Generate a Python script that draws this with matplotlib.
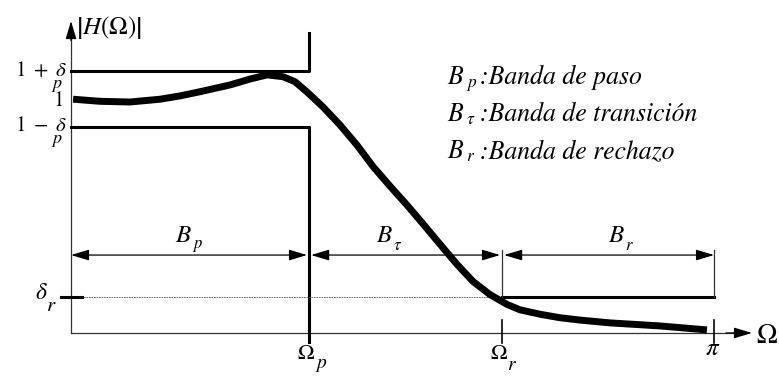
import numpy as np
import matplotlib
matplotlib.use('Agg')
from matplotlib import pyplot as plt

plt.rcParams['mathtext.fontset'] = 'stix'
plt.rcParams['font.family'] = 'STIXGeneral'

# Frecuencias de corte y tolerancias
wp = 1.163      # Omega_p
wr = 2.106      # Omega_r
wpi = np.pi
dp = 0.12       # delta_p
dr = 0.154      # delta_r

# Respuesta |H(Omega)|
w = [0.010, 0.142, 0.288, 0.435, 0.532, 0.630, 0.777, 0.874, 0.958, 1.036,
     1.094, 1.153, 1.231, 1.314, 1.397, 1.475, 1.558, 1.641, 1.720, 1.803,
     1.886, 1.964, 2.047, 2.130, 2.193, 2.291, 2.389, 2.487, 2.633, 2.877,
     3.107]
H = [0.999, 0.990, 0.987, 0.999, 1.013, 1.031, 1.060, 1.085, 1.103, 1.095,
     1.074, 1.030, 0.966, 0.889, 0.803, 0.712, 0.628, 0.547, 0.466, 0.379,
     0.293, 0.220, 0.164, 0.122, 0.099, 0.080, 0.065, 0.055, 0.043, 0.030,
     0.013]

fig = plt.figure(figsize=(7.79, 3.76), dpi=100)
ax = fig.add_axes([0, 0, 1, 1])
ax.set_xlim(-0.347, 3.459)
ax.set_ylim(-0.184, 1.423)
ax.axis('off')


def rotulo(px, py, s, size, ha='center', va='center', **kw):
    # coloca un texto dando su posicion en pixeles de la figura
    x = (px - 71) / 204.7
    y = (333 - py) / 234
    ax.text(x, y, s, fontsize=size, ha=ha, va=va, **kw)


ejes = dict(color='#333333', lw=0.9)
punta = dict(arrowstyle='-|>,head_length=1.1,head_width=0.33', color='black',
             lw=0.9, shrinkA=0, shrinkB=0, mutation_scale=10)

# ejes
ax.plot([0, 3.26], [0, 0], **ejes)
ax.plot([0, 0], [0, 1.28], **ejes)
ax.annotate('', xy=(3.327, 0), xytext=(3.2, 0), arrowprops=punta)
ax.annotate('', xy=(0, 1.333), xytext=(0, 1.25), arrowprops=punta)

# plantilla de tolerancias
ax.plot([0, wp, wp], [1 + dp, 1 + dp, 1.282], color='black', lw=2.2)
ax.plot([0, wp, wp], [1 - dp, 1 - dp, -0.04], color='black', lw=2.2)
ax.plot([wr, wpi], [dr, dr], color='black', lw=2.2)
ax.plot([0, wr], [dr, dr], color='#555555', lw=0.6, ls=(0, (2, 1)))
ax.plot([-0.049, 0.054], [dr, dr], color='black', lw=2.2)
ax.plot([wr, wr], [dr, 0.355], color='#333333', lw=0.9)
ax.plot([wpi, wpi], [dr, 0.355], color='#333333', lw=0.9)
ax.plot([wr, wr], [-0.043, 0.056], color='black', lw=1.2)
ax.plot([wpi, wpi], [-0.043, 0.056], color='black', lw=1.2)

# curva del filtro
ax.plot(w, H, color='black', lw=5.0, solid_capstyle='butt', solid_joinstyle='round')

# cotas de las bandas
cota = dict(arrowstyle='<|-|>,head_length=1.1,head_width=0.33', color='black',
            lw=0.9, shrinkA=0, shrinkB=0, mutation_scale=10)
yb = 0.333
ax.annotate('', xy=(0.0, yb), xytext=(wp - 0.01, yb), arrowprops=cota)
ax.annotate('', xy=(wp + 0.01, yb), xytext=(wr - 0.01, yb), arrowprops=cota)
ax.annotate('', xy=(wr + 0.01, yb), xytext=(wpi, yb), arrowprops=cota)

rotulo(183, 236, r'$B$', 18)
rotulo(198, 246, r'$p$', 12)
rotulo(384, 236, r'$B$', 18)
rotulo(398, 246, r'$\tau$', 12)
rotulo(616, 236, r'$B$', 18)
rotulo(629, 246, r'$r$', 12)

# etiquetas de los ejes
rotulo(76, 28, r'$\left|H(\Omega)\right|$', 18, ha='left')
rotulo(67, 71, r'$1\ +\ \delta$', 15, ha='right')
rotulo(57, 86, r'$p$', 13)
rotulo(63, 101, r'$1$', 15, ha='right')
rotulo(67, 126, r'$1\ -\ \delta$', 15, ha='right')
rotulo(57, 141, r'$p$', 13)
rotulo(41, 293, r'$\delta$', 17)
rotulo(51, 306, r'$r$', 15)
rotulo(306, 354, r'$\Omega$', 16)
rotulo(321, 365, r'$p$', 14)
rotulo(499, 354, r'$\Omega$', 16)
rotulo(512, 365, r'$r$', 14)
rotulo(713, 349, r'$\pi$', 18)
rotulo(767, 336, r'$\Omega$', 20)

# leyenda de las bandas
filas = [(84, r'$p$', 'Banda de paso'),
         (121, r'$\tau$', 'Banda de transición'),
         (158, r'$r$', 'Banda de rechazo')]
for yb_px, sub, txt in filas:
    rotulo(447, yb_px, r'$B$', 18.5, ha='left', va='baseline')
    rotulo(466, yb_px + 3, sub, 12.5, ha='left', va='baseline')
    rotulo(480, yb_px, ':' + txt, 18.5, ha='left', va='baseline', style='italic')

fig.savefig('out.png', dpi=100)
